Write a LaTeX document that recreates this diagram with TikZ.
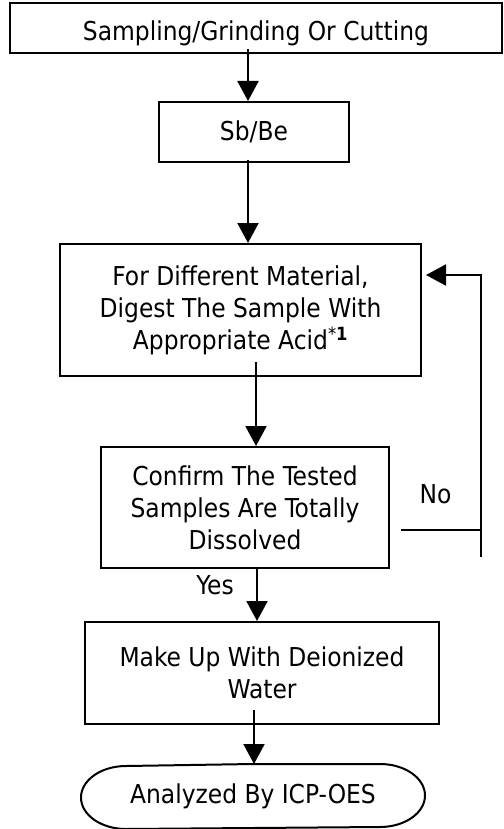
\documentclass[tikz,border=0pt]{standalone}
\usepackage{fontspec}
\setmainfont{DejaVu Sans Condensed}
\usetikzlibrary{arrows.meta}
\usetikzlibrary{positioning}

\begin{document}
\begin{tikzpicture}[x=1pt,y=-1pt,line width=2pt,>={Triangle[length=20pt,width=21pt]}]
                \tikzstyle{every node}=[font=\fontsize{26}{32}\selectfont,align=center,inner sep=0pt]
                \tikzstyle{procbox}=[draw,rectangle]
                \useasboundingbox (0,0) rectangle (503,829);

                \node[procbox,minimum width=492pt,minimum height=50pt,text height=25pt,text depth=0pt] (sample) at (256,28) {Sampling/Grinding Or Cutting};
                \node[procbox,minimum width=190pt,minimum height=60pt] (sbbe) at (254,132) {Sb/Be};
                \node[procbox,minimum width=361pt,minimum height=132pt] (digest) at (240.5,310)
                    {For Different Material,\\Digest The Sample With\\Appropriate Acid\textsuperscript{*\textbf{1}}};
                \node[procbox,minimum width=288pt,minimum height=121pt] (confirm) at (245,507.5)
                    {Confirm The Tested\\Samples Are Totally\\Dissolved};
                \node[procbox,minimum width=354pt,minimum height=102pt] (makeup) at (262,673)
                    {Make Up With Deionized\\Water};
                \node[minimum width=342pt,minimum height=63pt] (analyzed) at (253,796.5) {Analyzed By ICP-OES};
                \draw[line join=round] (analyzed.north) -- ([xshift=-45pt]analyzed.north east)
                    arc[start angle=90,end angle=-90,x radius=45pt,y radius=31.5pt]
                    -- ([xshift=45pt]analyzed.south west)
                    arc[start angle=270,end angle=90,x radius=45pt,y radius=31.5pt] -- cycle;

                \node (yes) at (215,585) {Yes};
                \node (no) at (435.5,494) {No};
                \coordinate (loop) at (481,275);
                \coordinate (loopend) at (481,557);
                \coordinate (nojoin) at (481,530);

                \draw[->] ([xshift=-8pt,yshift=5pt]sample.south) -- ([xshift=-6pt]sbbe.north);
                \draw[->] ([xshift=-6pt,yshift=3pt]sbbe.south) -- ([xshift=7.5pt]digest.north);
                \draw[->] ([xshift=15.5pt,yshift=15pt]digest.south) -- ([xshift=11pt]confirm.north);
                \draw[->] ([xshift=12pt]confirm.south) -- ([xshift=-5pt]makeup.north);
                \draw[->] ([xshift=-8pt,yshift=15pt]makeup.south) -- ([xshift=1pt]analyzed.north);
                \draw ([xshift=11pt,yshift=-22.5pt]confirm.east) -- (nojoin);
                \draw[->] (loopend) -- (loop) -- ([xshift=4pt,yshift=35pt]digest.east);
            \end{tikzpicture}
\end{document}
